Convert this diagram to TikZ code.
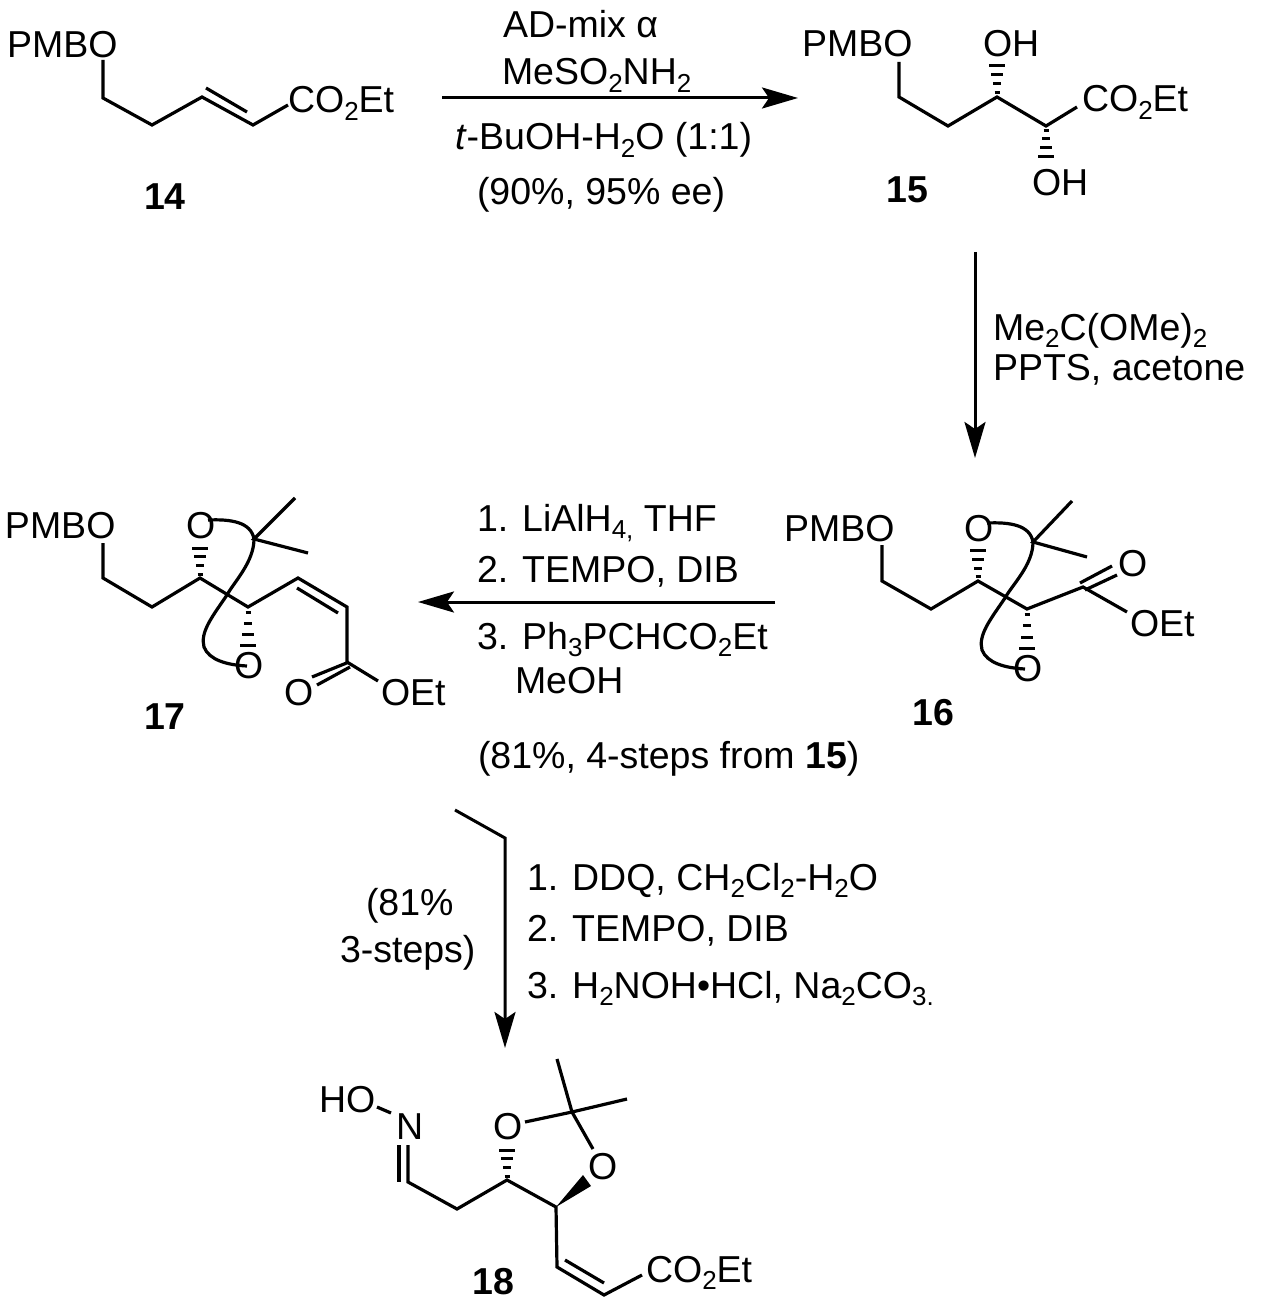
\documentclass[tikz,border=0pt]{standalone}
\usepackage{fontspec}
\setmainfont{Liberation Sans}
\usetikzlibrary{arrows.meta,calc}
\newcommand{\sbs}[1]{\raisebox{-0.2em}{\fontsize{26}{26}\selectfont #1}}
\newcommand{\hashbond}[2]{%
  \foreach \t/\w in {0.12/2.5,0.38/4.2,0.64/6,0.9/7.8}{
    \draw[line width=3pt] ($(#1)!\t!(#2)+(-\w,0)$) -- ($(#1)!\t!(#2)+(\w,0)$);
  }}
\tikzset{
  x=1pt,y=-1pt,
  bond/.style={line width=3.2pt,line join=miter,line cap=butt,black},
  rxn/.style={line width=3pt,black,-{Stealth[length=36pt,width=21pt,inset=7pt]}},
  chem/.style={anchor=base west,inner sep=0pt,outer sep=0pt,font=\fontsize{37.5}{40}\selectfont},
  cid/.style={anchor=center,inner sep=0pt,outer sep=0pt,font=\fontsize{37.5}{40}\selectfont\bfseries},
  reag/.style={anchor=base west,inner sep=0pt,outer sep=0pt,font=\fontsize{37.5}{40}\selectfont},
}
\begin{document}
\begin{tikzpicture}
\useasboundingbox (0,0) rectangle (1260,1305);
% ---------- 14
\node[chem] (m14p) at (7,58) {PMBO};
\node[chem] (m14e) at (288,113) {CO\sbs{2}Et};
\node[cid] (l14) at (165,197) {14};
\draw[bond] (103,60) -- (103,98) -- (152,125) -- (202,97) -- (253,125) -- (288,105);
\draw[bond] (206,88) -- (247,112);
% ---------- 15
\node[chem] (m15p) at (802,57) {PMBO};
\node[chem] (m15h) at (983,57) {OH};
\node[chem] (m15e) at (1082,112) {CO\sbs{2}Et};
\node[chem] (m15l) at (1032,196) {OH};
\node[cid] (l15) at (907,190) {15};
\draw[bond] (899,62) -- (899,97) -- (948,126) -- (997,97) -- (1046,126) -- (1077,107);
\hashbond{997,97}{997,62}
\hashbond{1046,126}{1046,160}
% ---------- 16
\node[chem] (m16p) at (784,541) {PMBO};
\node[chem] (m16a) at (964,541) {O};
\node[chem] (m16b) at (1013,681) {O};
\node[chem] (m16c) at (1118,576) {O};
\node[chem] (m16e) at (1130,636) {OEt};
\node[cid] (l16) at (933,713) {16};
\draw[bond] (882,545) -- (882,581) -- (931,609) -- (978,581) -- (1027,609) -- (1083,587) -- (1127,612);
\draw[bond] (1080,583) -- (1112,566);
\draw[bond] (1085,590) -- (1117,575);
\hashbond{978,581}{978,547}
\hashbond{1027,609}{1027,653}
\draw[bond] (1072,501) -- (1033,542) -- (1087,557);
\draw[bond] (987,523) .. controls (1010,522) and (1030,525) .. (1033,542)
  .. controls (1033,565) and (1012,585) .. (1005,598)
  .. controls (990,620) and (978,635) .. (982,650)
  .. controls (987,663) and (1005,668) .. (1025,669);
% ---------- 17
\node[chem] (m17p) at (5,538) {PMBO};
\node[chem] (m17a) at (186,538) {O};
\node[chem] (m17b) at (234,678) {O};
\node[chem] (m17c) at (284,705) {O};
\node[chem] (m17e) at (381,705) {OEt};
\node[cid] (l17) at (165,717) {17};
\draw[bond] (103,543) -- (103,578) -- (152,607) -- (200,578) -- (248,607) -- (298,578) -- (347,607) -- (347,662) -- (378,681);
\draw[bond] (297,588) -- (338,613);
\draw[bond] (349,662) -- (312,677);
\draw[bond] (317,685) -- (350,667);
\hashbond{200,578}{200,545}
\hashbond{248,607}{248,650}
\draw[bond] (295,498) -- (254,539) -- (308,553);
\draw[bond] (208,520) .. controls (231,519) and (251,522) .. (254,539)
  .. controls (254,562) and (234,582) .. (227,595)
  .. controls (212,617) and (200,632) .. (204,647)
  .. controls (209,660) and (227,665) .. (247,666);
% ---------- 18
\node[chem] (m18h) at (319,1112) {HO};
\node[chem] (m18n) at (396,1139) {N};
\node[chem] (m18a) at (493,1139) {O};
\node[chem] (m18b) at (588,1179) {O};
\node[chem] (m18e) at (646,1282) {CO\sbs{2}Et};
\node[cid] (l18) at (493,1282) {18};
\draw[bond] (377,1107) -- (391,1113);
\draw[bond] (399,1145) -- (399,1182);
\draw[bond] (408,1145) -- (408,1182) -- (457,1209) -- (507,1180) -- (556,1207) -- (557,1267) -- (604,1295) -- (642,1275);
\draw[bond] (565,1260) -- (604,1283);
\hashbond{507,1180}{507,1147}
\fill[black] (556,1207) -- (583,1175) -- (591,1186) -- cycle;
\draw[bond] (525,1122) -- (572,1112) -- (593,1149);
\draw[bond] (557,1059) -- (572,1112) -- (627,1099);
% ---------- arrows
\coordinate (a1s) at (442,98); \coordinate (a1e) at (798,98);
\coordinate (a2s) at (975,252); \coordinate (a2e) at (975,458);
\coordinate (a3s) at (775,602); \coordinate (a3e) at (418,602);
\coordinate (a4s) at (455,810); \coordinate (a4k) at (505,838); \coordinate (a4e) at (505,1048);
\draw[rxn] (a1s) -- (a1e);
\draw[rxn] (a2s) -- (a2e);
\draw[rxn] (a3s) -- (a3e);
\draw[rxn] (a4s) -- (a4k) -- (a4e);
% ---------- reagents
\node[reag] (r1) at (503,38) {AD-mix α};
\node[reag] (r2) at (502,85) {MeSO\sbs{2}NH\sbs{2}};
\node[reag] (r3) at (455,150) {\textit{t}-BuOH-H\sbs{2}O (1:1)};
\node[reag] (r4) at (477,205) {(90\%, 95\% ee)};
\node[reag] (r5) at (993,340) {Me\sbs{2}C(OMe)\sbs{2}};
\node[reag] (r6) at (993,380) {PPTS, acetone};
\node[reag] (r7) at (477,531) {1. LiAlH\sbs{4,} THF};
\node[reag] (r8) at (477,582) {2. TEMPO, DIB};
\node[reag] (r9) at (477,649) {3. Ph\sbs{3}PCHCO\sbs{2}Et};
\node[reag] (r10) at (515,693) {MeOH};
\node[reag] (r11) at (478,768) {(81\%, 4-steps from \textbf{15})};
\node[reag] (r12) at (527,890) {1. DDQ, CH\sbs{2}Cl\sbs{2}-H\sbs{2}O};
\node[reag] (r13) at (527,941) {2. TEMPO, DIB};
\node[reag] (r14) at (527,998) {3. H\sbs{2}NOH•HCl, Na\sbs{2}CO\sbs{3.}};
\node[reag] (r15) at (366,915) {(81\%};
\node[reag] (r16) at (340,962) {3-steps)};
\end{tikzpicture}
\end{document}
